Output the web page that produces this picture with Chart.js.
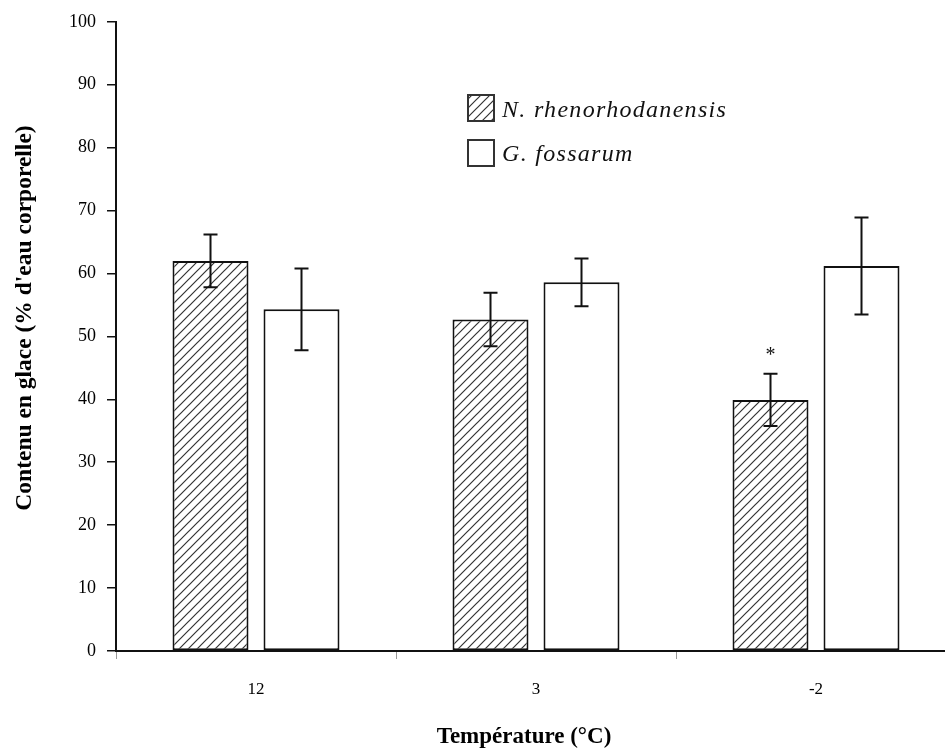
<!DOCTYPE html>
<html>
<head>
<meta charset="utf-8">
<script src="https://cdn.jsdelivr.net/npm/chart.js@4/dist/chart.umd.min.js"></script>
<style>
  html, body { margin: 0; padding: 0; background: #fff; overflow: hidden; width: 945px; height: 749px; }
  #wrap { position: absolute; left: 0; top: 0; width: 960px; height: 749px; }
</style>
</head>
<body>
<div id="wrap"><canvas id="c" width="960" height="749"></canvas></div>
<script>
// ---- Data ----
const categories = ['12', '3', '-2'];
const seriesNames = ['N. rhenorhodanensis', 'G. fossarum'];
const nRhenoValues = [62.0, 52.7, 39.9];
const nRhenoErrors = [4.2, 4.25, 4.15];
const gFossValues = [54.3, 58.6, 61.2];
const gFossErrors = [6.5, 3.8, 7.7];
const nRhenoSignif = ['', '', '*'];
const yMin = 0, yMax = 100, yStep = 10;
const xTitle = 'Température (°C)';
const yTitle = "Contenu en glace (% d'eau corporelle)";

// ---- Hatch pattern ----
function makeHatch(size) {
  const c = document.createElement('canvas');
  c.width = size; c.height = size;
  const g = c.getContext('2d');
  g.fillStyle = '#fff';
  g.fillRect(0, 0, size, size);
  g.strokeStyle = '#333';
  g.lineWidth = 1.2;
  g.beginPath();
  g.moveTo(-1, size + 1); g.lineTo(size + 1, -1);
  g.moveTo(-1, 1); g.lineTo(1, -1);
  g.moveTo(size - 1, size + 1); g.lineTo(size + 1, size - 1);
  g.stroke();
  return g.createPattern(c, 'repeat');
}
const hatch = makeHatch(9);

const errorBarPlugin = {
  id: 'errorBars',
  afterDatasetsDraw(chart) {
    const ctx = chart.ctx;
    const ys = chart.scales.y;
    const errs = [nRhenoErrors, gFossErrors];
    ctx.save();
    ctx.strokeStyle = '#111';
    ctx.lineWidth = 2;
    errs.forEach((e, di) => {
      const meta = chart.getDatasetMeta(di);
      const vals = chart.data.datasets[di].data;
      meta.data.forEach((bar, i) => {
        const x = bar.x;
        const t = ys.getPixelForValue(vals[i] + e[i]);
        const b = ys.getPixelForValue(vals[i] - e[i]);
        ctx.beginPath();
        ctx.moveTo(x, t); ctx.lineTo(x, b);
        ctx.moveTo(x - 7, t); ctx.lineTo(x + 7, t);
        ctx.moveTo(x - 7, b); ctx.lineTo(x + 7, b);
        ctx.stroke();
      });
    });
    // significance marks
    const meta0 = chart.getDatasetMeta(0);
    ctx.fillStyle = '#111';
    ctx.font = '20px "Liberation Serif"';
    ctx.textAlign = 'center';
    ctx.textBaseline = 'middle';
    meta0.data.forEach((bar, i) => {
      if (!nRhenoSignif[i]) return;
      const t = ys.getPixelForValue(nRhenoValues[i] + nRhenoErrors[i]);
      ctx.fillText(nRhenoSignif[i], bar.x, t - 18);
    });
    ctx.restore();
  },
  afterDraw(chart) {
    const ctx = chart.ctx;
    ctx.save();
    // legend
    const fills = [hatch, '#fff'];
    const tops = [95, 140];
    const bases = [117, 161];
    ctx.font = 'italic 24px "Liberation Serif"';
    ctx.textAlign = 'left';
    ctx.textBaseline = 'alphabetic';
    try { ctx.letterSpacing = '1.3px'; } catch (e) {}
    seriesNames.forEach((name, i) => {
      ctx.fillStyle = fills[i];
      ctx.fillRect(468, tops[i], 26, 26);
      ctx.strokeStyle = '#333';
      ctx.lineWidth = 2;
      ctx.strokeRect(468, tops[i], 26, 26);
      ctx.fillStyle = '#111';
      ctx.fillText(name, 502, bases[i]);
    });
    try { ctx.letterSpacing = '0px'; } catch (e) {}
    // axis titles
    ctx.fillStyle = '#000';
    ctx.font = 'bold 23px "Liberation Serif"';
    ctx.textAlign = 'center';
    ctx.textBaseline = 'middle';
    ctx.fillText(xTitle, 524, 737);
    ctx.translate(25, 318);
    ctx.rotate(-Math.PI / 2);
    ctx.font = 'bold 23.5px "Liberation Serif"';
    ctx.fillText(yTitle, 0, 0);
    ctx.restore();
  }
};

Chart.defaults.color = '#000';
Chart.defaults.font.family = '"Liberation Serif", "Times New Roman", serif';

new Chart(document.getElementById('c'), {
  type: 'bar',
  data: {
    labels: categories,
    datasets: [
      { label: seriesNames[0], data: nRhenoValues, backgroundColor: hatch, borderColor: '#111', borderWidth: 2, borderSkipped: false },
      { label: seriesNames[1], data: gFossValues, backgroundColor: '#fff', borderColor: '#111', borderWidth: 2, borderSkipped: false }
    ]
  },
  options: {
    responsive: false,
    animation: false,
    events: [],
    layout: { padding: { top: 20, right: 4, left: 0, bottom: 0 } },
    datasets: { bar: { categoryPercentage: 0.65, barPercentage: 0.835 } },
    plugins: { legend: { display: false }, tooltip: { enabled: false } },
    scales: {
      x: {
        offset: true,
        grid: { display: true, offset: true, drawOnChartArea: false, drawTicks: true, tickLength: 8, color: '#999', lineWidth: 1 },
        border: { display: true, color: '#111', width: 2 },
        ticks: { padding: 20, font: { size: 17 }, color: '#000', maxRotation: 0 },
        title: { display: false },
        afterFit(s) { s.height = 98; }
      },
      y: {
        min: yMin, max: yMax,
        grid: { display: true, drawOnChartArea: false, drawTicks: true, tickLength: 9, color: '#111', lineWidth: 1.5 },
        border: { display: true, color: '#111', width: 2 },
        ticks: { stepSize: yStep, padding: 11, font: { size: 18 }, color: '#000' },
        title: { display: false },
        afterFit(s) { s.width = 116; }
      }
    }
  },
  plugins: [errorBarPlugin]
});
</script>
</body>
</html>
